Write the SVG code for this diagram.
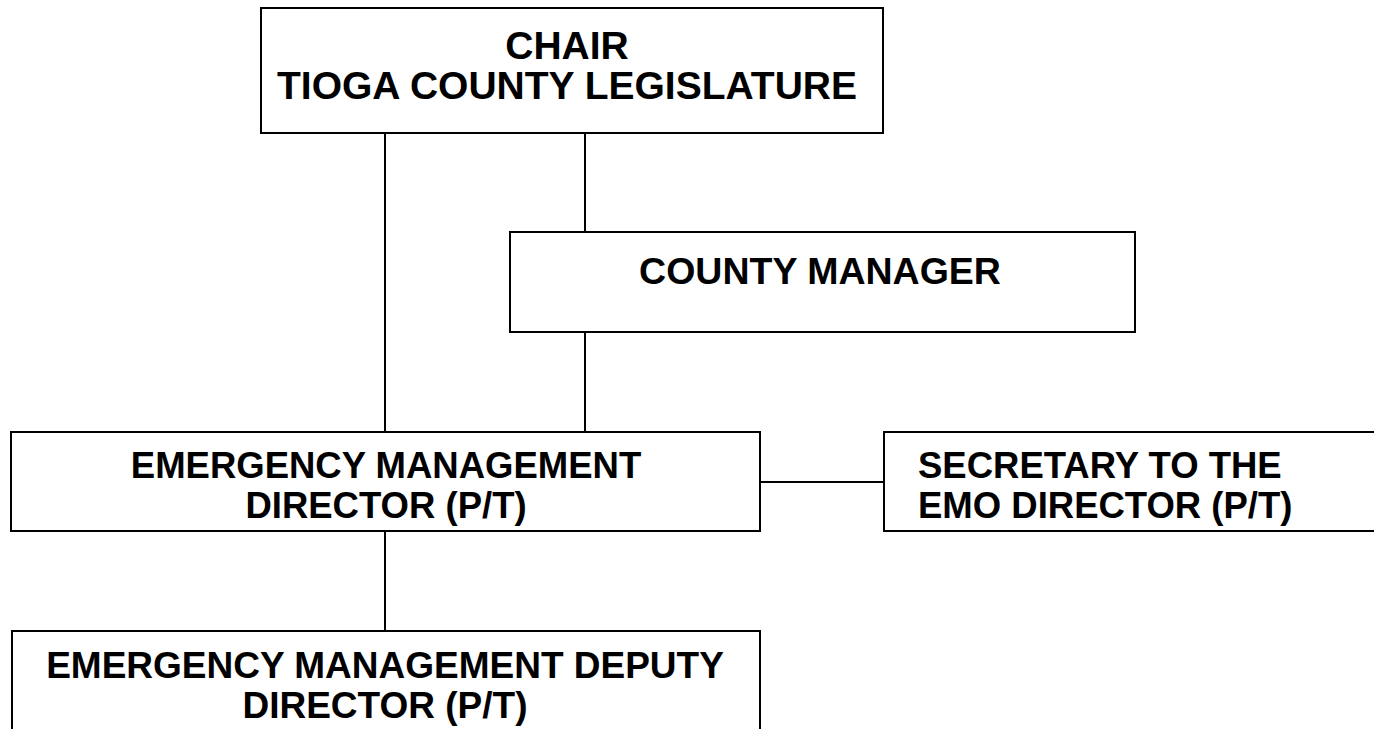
<svg xmlns="http://www.w3.org/2000/svg" width="1374" height="729" viewBox="0 0 1374 729">
<style>
.box{fill:#fff;stroke:#000;stroke-width:2}
.ln{stroke:#000;stroke-width:2;fill:none}
text{font-family:"Liberation Sans",Arial,sans-serif;font-weight:bold;font-size:36.5px;fill:#000}
.c{text-anchor:middle}
.big{font-size:39px}
.mid{font-size:37.5px}
.dep{font-size:37px}
</style>
<rect width="1374" height="729" fill="#fff"/>
<g id="connectors">
<line class="ln" x1="385" y1="133" x2="385" y2="432"/>
<line class="ln" x1="585" y1="133" x2="585" y2="232"/>
<line class="ln" x1="585" y1="332" x2="585" y2="432"/>
<line class="ln" x1="760" y1="482" x2="884" y2="482"/>
<line class="ln" x1="385" y1="531" x2="385" y2="631"/>
</g>
<g id="chair">
<rect class="box" x="261" y="8" width="622" height="125"/>
<text class="c big" x="567" y="59">CHAIR</text>
<text class="c big" x="567" y="99">TIOGA COUNTY LEGISLATURE</text>
</g>
<g id="county-manager">
<rect class="box" x="510" y="232" width="625" height="100"/>
<text class="c mid" x="820" y="284">COUNTY MANAGER</text>
</g>
<g id="em-director">
<rect class="box" x="11" y="432" width="749" height="99"/>
<text class="c" x="386" y="478">EMERGENCY MANAGEMENT</text>
<text class="c" x="386" y="518">DIRECTOR (P/T)</text>
</g>
<g id="secretary">
<rect class="box" x="884" y="432" width="500" height="99"/>
<text x="918" y="478">SECRETARY TO THE</text>
<text x="918" y="518">EMO DIRECTOR (P/T)</text>
</g>
<g id="deputy">
<rect class="box" x="12" y="631" width="748" height="120"/>
<text class="c dep" x="385" y="678">EMERGENCY MANAGEMENT DEPUTY</text>
<text class="c dep" x="385" y="718">DIRECTOR (P/T)</text>
</g>
</svg>
